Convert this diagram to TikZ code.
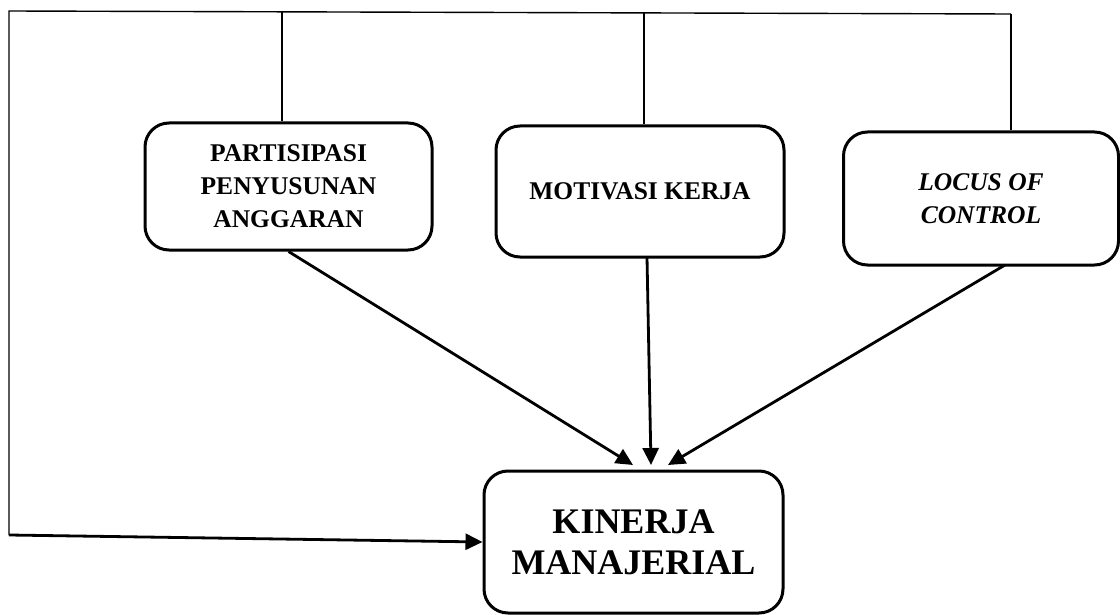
\documentclass[tikz,border=0pt]{standalone}
\usepackage{fontspec}
\setmainfont{Liberation Serif}
\usetikzlibrary{arrows.meta,calc}
\begin{document}
\begin{tikzpicture}[x=1pt,y=-1pt,
  box/.style={draw,line width=3pt,rounded corners=24pt,align=center,inner sep=0pt,
    font=\fontsize{25.5}{33}\selectfont\bfseries},
  thin/.style={line width=1.4pt},
  arr/.style={line width=2.8pt,-{Triangle[length=17pt,width=16pt]}}]
\useasboundingbox (0,0) rectangle (1120,615);
\node[box,minimum width=287pt,minimum height=127pt] (b1) at (288.5,186.5) {PARTISIPASI\\PENYUSUNAN\\ANGGARAN};
\node[box,minimum width=288pt,minimum height=131pt] (b2) at (640,191.5) {MOTIVASI KERJA};
\node[box,minimum width=275pt,minimum height=133pt] (b3) at (981,198.5) {\itshape LOCUS OF\\\itshape CONTROL};
\node[box,minimum width=299pt,minimum height=142pt,font=\fontsize{36}{41}\selectfont\bfseries] (b4) at (633.5,542) {KINERJA\\MANAJERIAL};
\coordinate (tl) at (9,11);
\coordinate (tr) at (1011,14);
\coordinate (bl) at (9,535);
\coordinate (t1) at (282,12);
\coordinate (t2) at (644,13);
\coordinate (s2) at (647,257);
\coordinate (s3) at (1005,265);
\coordinate (p1) at (633,465);
\coordinate (p2) at (651,465);
\coordinate (p3) at (668,465);
\draw[thin] (tr) -- (tl) -- (bl);
\draw[thin] (t1) -- (b1.north -| t1);
\draw[thin] (t2) -- (b2.north -| t2);
\draw[thin] (tr) -- (b3.north -| tr);
\draw[arr] (bl) -- (b4.west);
\draw[arr] (b1.south) -- (p1);
\draw[arr] (s2) -- (p2);
\draw[arr] (s3) -- (p3);
\end{tikzpicture}
\end{document}
